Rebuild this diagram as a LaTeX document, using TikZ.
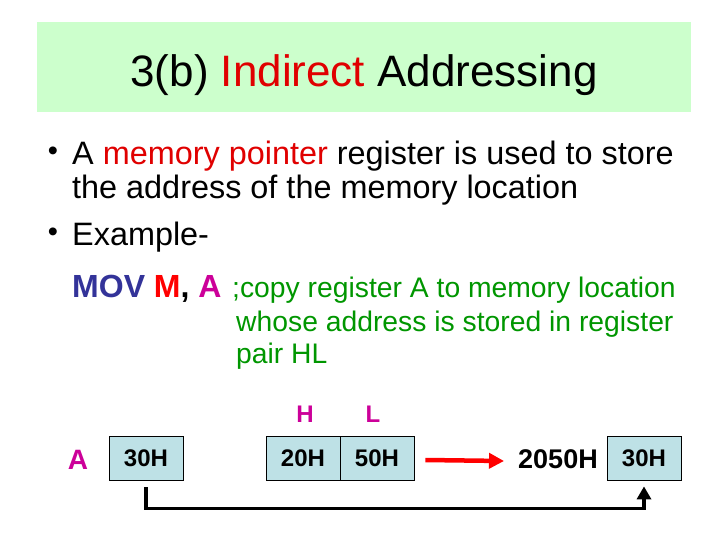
\documentclass[tikz,border=0pt]{standalone}
\usepackage{fontspec}
\setmainfont{Liberation Sans}
\usetikzlibrary{arrows.meta}
\definecolor{titlegreen}{RGB}{204,255,204}
\definecolor{titlered}{RGB}{224,0,0}
\definecolor{movblue}{RGB}{51,51,153}
\definecolor{mred}{RGB}{255,0,0}
\definecolor{regmag}{RGB}{204,0,153}
\definecolor{cmtgreen}{RGB}{0,150,0}
\definecolor{boxblue}{RGB}{190,225,230}
\begin{document}
\begin{tikzpicture}[x=1pt,y=-1pt,
  bodytext/.style={anchor=base west, inner sep=0, font=\fontsize{32.4}{32}\selectfont},
  bullettext/.style={anchor=base, inner sep=0, font=\fontsize{29}{29}\selectfont},
  cmttext/.style={anchor=base west, inner sep=0, text=cmtgreen, font=\fontsize{28.3}{28}\selectfont},
  regbox/.style={draw=black, line width=0.8pt, fill=boxblue, minimum width=74pt, minimum height=44pt, inner sep=0, font=\bfseries\fontsize{24}{24}\selectfont},
  reglabel/.style={inner sep=0, text=regmag, font=\bfseries\fontsize{24}{24}\selectfont}
]
\useasboundingbox (0,0) rectangle (728,546);
\node[fill=titlegreen, minimum width=654pt, minimum height=90pt, anchor=north west, inner sep=0] (titlebox) at (37,22) {};
\node[anchor=base, inner sep=0, font=\fontsize{44}{44}\selectfont] (title) at (364,86) {3(b) \textcolor{titlered}{Indirect} Addressing};

\node[bullettext] (bul1) at (53,160) {•};
\node[bodytext] (line1) at (72,164) {A \textcolor{titlered}{memory pointer} register is used to store};
\node[bodytext] (line2) at (72,198) {the address of the memory location};
\node[bullettext] (bul2) at (53,241) {•};
\node[bodytext] (line3) at (72,245) {Example-};
\node[bodytext, font=\bfseries\fontsize{32}{32}\selectfont] (mov) at (72,297) {\textcolor{movblue}{MOV} \textcolor{mred}{M}, \textcolor{regmag}{A}};
\node[cmttext] (cmt1) at (232,297) {;copy register A to memory location};
\node[cmttext] (cmt2) at (236,331) {whose address is stored in register};
\node[cmttext] (cmt3) at (236,363) {pair HL};

\node[reglabel] (hlab) at (305,414) {H};
\node[reglabel] (llab) at (373,414) {L};
\node[reglabel, font=\bfseries\fontsize{28}{28}\selectfont] (alab) at (78,460) {A};

\node[regbox] (a30) at (146,458) {30H};
\node[regbox] (h20) at (303,458) {20H};
\node[regbox] (l50) at (377,458) {50H};
\node[inner sep=0, font=\bfseries\fontsize{27}{27}\selectfont] (addr) at (558,459) {2050H};
\node[regbox] (m30) at (644,458) {30H};

\draw[red, line width=4.5pt, -{Triangle[length=15pt,width=15pt]}] ([xshift=11pt,yshift=-2pt]l50.east) -- ([xshift=-14pt,yshift=-2pt]addr.west);
\draw[black, line width=3.5pt, line join=miter, -{Triangle[length=13pt,width=14pt]}] ([yshift=-7pt]a30.south) -- ++(0,21) -| ([yshift=-6pt]m30.south);
\end{tikzpicture}
\end{document}
